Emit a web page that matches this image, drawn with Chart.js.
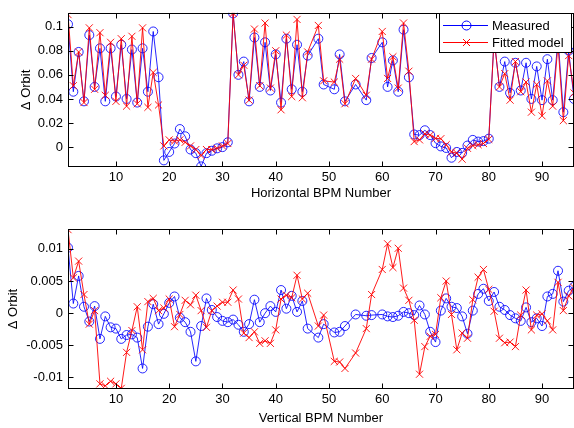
<!DOCTYPE html>
<html>
<head>
<meta charset="utf-8">
<script src="https://cdn.jsdelivr.net/npm/chart.js@4.4.1/dist/chart.umd.min.js"></script>
<style>
  html, body { margin: 0; padding: 0; background: #fff; }
  #wrap { position: relative; width: 574px; height: 428px; }
  canvas { position: absolute; left: 0; }
</style>
</head>
<body>
<div id="wrap">
  <canvas id="horiz" width="574" height="214" style="top:0;width:574px;height:214px"></canvas>
  <canvas id="vert" width="574" height="214" style="top:214px;width:574px;height:214px"></canvas>
</div>
<script>
// BPM numbers that have data (47, 50, 54, 56 and 59 are missing)
var bpm = [1, 2, 3, 4, 5, 6, 7, 8, 9, 10, 11, 12, 13, 14, 15, 16, 17, 18, 19, 20,
  21, 22, 23, 24, 25, 26, 27, 28, 29, 30, 31, 32, 33, 34, 35, 36, 37, 38, 39, 40,
  41, 42, 43, 44, 45, 46, 48, 49, 51, 52, 53, 55, 57, 58,
  60, 61, 62, 63, 64, 65, 66, 67, 68, 69, 70, 71, 72, 73, 74, 75, 76, 77, 78, 79,
  80, 81, 82, 83, 84, 85, 86, 87, 88, 89, 90, 91, 92, 93, 94, 95, 96];

var hMeasured = [0.102, 0.046, 0.079, 0.038, 0.093, 0.050, 0.082, 0.038, 0.082, 0.042,
  0.085, 0.040, 0.081, 0.037, 0.082, 0.046, 0.096, 0.058, -0.011, -0.004,
  0.003, 0.015, 0.009, -0.002, -0.005, -0.016, -0.005, -0.003, -0.001, 0.000,
  0.004, 0.111, 0.060, 0.071, 0.038, 0.091, 0.050, 0.087, 0.047, 0.077,
  0.037, 0.090, 0.048, 0.085, 0.046, 0.076, 0.090, 0.052, 0.048, 0.077, 0.038,
  0.052, 0.039, 0.074,
  0.087, 0.050, 0.072, 0.046, 0.0975, 0.058, 0.0105, 0.010, 0.014, 0.010,
  0.0033, 0.0006, -0.0007, -0.0088, -0.004, -0.0048, 0.0013, 0.006, 0.0046, 0.005,
  0.007, 0.090, 0.050, 0.071, 0.045, 0.070, 0.047, 0.070, 0.040, 0.067,
  0.039, 0.073, 0.039, 0.090, 0.029, 0.080, 0.040];

var hFitted = [0.110, 0.051, 0.079, 0.037, 0.099, 0.048, 0.095, 0.043, 0.087, 0.038,
  0.090, 0.034, 0.092, 0.036, 0.099, 0.033, 0.062, 0.035, 0.001, 0.006,
  0.005, 0.006, 0.004, 0.001, -0.002, -0.007, -0.002, -0.002, -0.001, 0.001,
  0.003, 0.111, 0.060, 0.068, 0.039, 0.098, 0.051, 0.103, 0.049, 0.080,
  0.031, 0.093, 0.042, 0.106, 0.041, 0.079, 0.101, 0.055, 0.054, 0.073, 0.036,
  0.057, 0.043, 0.073,
  0.096, 0.057, 0.075, 0.049, 0.103, 0.063, 0.0046, 0.006, 0.011, 0.010,
  0.0073, 0.007, 0.002, -0.004, -0.005, -0.010, -0.001, 0.0013, 0.002, 0.003,
  0.0065, 0.090, 0.050, 0.061, 0.039, 0.071, 0.046, 0.054, 0.029, 0.052,
  0.026, 0.055, 0.034, 0.085, 0.022, 0.076, 0.045];

var vMeasured = [0.0102, 0.0015, 0.0058, 0.0010, -0.0013, 0.0011, -0.0040, -0.0005, -0.0022, -0.0024,
  -0.0040, -0.0034, -0.0033, -0.0038, -0.0086, -0.0021, 0.0014, -0.0017, -0.0001, 0.0016,
  0.0026, -0.0007, -0.0014, -0.0029, -0.0075, -0.0020, 0.0023, 0.0005, -0.0006, -0.0012,
  -0.0014, -0.0010, -0.0018, -0.0029, -0.0017, 0.0021, -0.0014, 0.0000, 0.0011, 0.0002,
  0.0036, 0.0007, 0.0027, 0.0002, 0.0019, -0.0024, -0.0038, -0.0017, -0.0030, -0.0029, -0.0020,
  -0.0002, -0.0004, -0.0003,
  -0.0002, -0.0005, -0.0006, -0.0004, 0.0002, 0.0000, -0.0003, 0.0012, -0.0002, -0.0029,
  -0.0045, 0.0004, 0.0023, 0.0010, 0.0008, -0.0005, -0.0032, 0.0004, 0.0030, 0.0038,
  0.0019, 0.0033, 0.0010, 0.0005, -0.0003, -0.0008, -0.0012, 0.0009, -0.0014, -0.0008,
  -0.0020, 0.0026, 0.0030, 0.0066, 0.0018, 0.0035, 0.0041];

var vFitted = [0.0130, 0.0055, 0.0081, 0.0029, -0.0017, 0.0004, -0.0110, -0.0113, -0.0106, -0.0110,
  -0.0117, -0.0061, -0.0027, 0.0010, -0.0057, 0.0018, 0.0023, 0.0004, 0.0008, 0.0022,
  -0.0021, -0.0002, 0.0020, 0.0013, 0.0028, 0.0004, -0.0022, 0.0004, 0.0011, 0.0017,
  0.0017, 0.0036, 0.0022, -0.0031, -0.0038, -0.0029, -0.0047, -0.0043, -0.0047, -0.0026,
  0.0022, 0.0028, 0.0024, 0.0059, 0.0022, 0.0031, -0.0020, -0.0003, -0.0075, -0.0076, -0.0086,
  -0.0062, -0.0024, 0.0029,
  0.0068, 0.0108, 0.0071, 0.0101, 0.0039, 0.0020, -0.0011, -0.0095, -0.0052, -0.0036,
  -0.0033, 0.0024, 0.0050, -0.0002, -0.0057, -0.0031, -0.0039, 0.0021, 0.0056, 0.0068,
  0.0037, 0.0003, -0.0039, -0.0046, -0.0045, -0.0052, -0.0003, 0.0036, -0.0026, -0.0003,
  -0.0001, -0.0012, -0.0026, 0.0048, 0.0004, 0.0027, 0.0040];

var xTicks = [10, 20, 30, 40, 50, 60, 70, 80, 90];
var hTicks = [0, 0.02, 0.04, 0.06, 0.08, 0.1];
var hTickLabels = ['0', '0.02', '0.04', '0.06', '0.08', '0.1'];
var vTicks = [-0.01, -0.005, 0, 0.005, 0.01];
var vTickLabels = ['-0.01', '-0.005', '0', '0.005', '0.01'];

var FONT = 'Liberation Sans, Arial, Helvetica, sans-serif';
Chart.defaults.color = '#000';
Chart.defaults.font.family = FONT;
Chart.defaults.font.size = 13;

function points(values) {
  return bpm.map(function (x, i) { return { x: x, y: values[i] }; });
}

// axes box with inward ticks, MATLAB style; legend on the first plot
var boxPlugin = {
  id: 'box',
  afterDatasetsDraw: function (chart, args, opts) {
    var a = chart.chartArea, ctx = chart.ctx;
    var L = Math.round(a.left) + 0.5, R = Math.round(a.right) - 0.5;
    var T = Math.round(a.top) + 0.5, B = Math.round(a.bottom) - 0.5;
    ctx.save();
    ctx.strokeStyle = '#000';
    ctx.lineWidth = 1;
    ctx.strokeRect(L, T, R - L, B - T);
    ctx.beginPath();
    chart.scales.x.ticks.forEach(function (t) {
      var px = Math.round(chart.scales.x.getPixelForValue(t.value)) + 0.5;
      ctx.moveTo(px, B); ctx.lineTo(px, B - 5);
      ctx.moveTo(px, T); ctx.lineTo(px, T + 5);
    });
    chart.scales.y.ticks.forEach(function (t) {
      var py = Math.round(chart.scales.y.getPixelForValue(t.value)) + 0.5;
      ctx.moveTo(L, py); ctx.lineTo(L + 5, py);
      ctx.moveTo(R, py); ctx.lineTo(R - 5, py);
    });
    ctx.stroke();

    if (opts.legend) {
      ctx.fillStyle = '#fff';
      ctx.fillRect(439.5, 13.5, 132, 39);
      ctx.strokeRect(439.5, 13.5, 132, 39);
      // Measured
      ctx.strokeStyle = '#0000ff';
      ctx.beginPath();
      ctx.moveTo(443, 25.5); ctx.lineTo(488, 25.5);
      ctx.stroke();
      ctx.beginPath();
      ctx.arc(466.5, 25.5, 4.5, 0, Math.PI * 2);
      ctx.stroke();
      // Fitted model
      ctx.strokeStyle = '#ff0000';
      ctx.beginPath();
      ctx.moveTo(443, 42.5); ctx.lineTo(488, 42.5);
      ctx.moveTo(463, 39); ctx.lineTo(470, 46);
      ctx.moveTo(470, 39); ctx.lineTo(463, 46);
      ctx.stroke();
      ctx.fillStyle = '#000';
      ctx.font = '13px ' + FONT;
      ctx.textBaseline = 'middle';
      ctx.fillText('Measured', 492, 26);
      ctx.fillText('Fitted model', 492, 43);
    }
    ctx.restore();
  }
};

function makeChart(id, measured, fitted, cfg) {
  return new Chart(document.getElementById(id), {
    type: 'line',
    data: {
      datasets: [{
        label: 'Measured',
        data: points(measured),
        borderColor: 'rgba(0,0,255,0.85)',
        borderWidth: 1,
        pointStyle: 'circle',
        pointRadius: 4.5,
        pointBorderWidth: 1,
        pointBackgroundColor: 'rgba(0,0,0,0)',
        pointBorderColor: 'rgba(0,0,255,0.85)',
        order: 1
      }, {
        label: 'Fitted model',
        data: points(fitted),
        borderColor: 'rgba(255,0,0,0.9)',
        borderWidth: 1,
        pointStyle: 'crossRot',
        pointRadius: 5,
        pointBorderWidth: 1,
        pointBorderColor: 'rgba(255,0,0,0.9)',
        order: 0
      }]
    },
    options: {
      responsive: false,
      animation: false,
      devicePixelRatio: 1,
      events: [],
      layout: { autoPadding: false, padding: { top: cfg.padTop, right: 0, left: 0, bottom: 0 } },
      plugins: {
        legend: { display: false },
        tooltip: { enabled: false },
        box: { legend: cfg.legend }
      },
      scales: {
        x: {
          type: 'linear',
          min: 1,
          max: 96,
          grid: { display: false, drawTicks: false },
          border: { display: false },
          afterBuildTicks: function (s) {
            s.ticks = xTicks.map(function (v) { return { value: v }; });
          },
          afterFit: function (s) { s.height = cfg.xHeight; },
          ticks: { padding: 3, maxRotation: 0, autoSkip: false },
          title: {
            display: true,
            text: cfg.xTitle,
            font: { size: 13 },
            padding: { top: 0, bottom: cfg.xTitlePad }
          }
        },
        y: {
          min: cfg.yMin,
          max: cfg.yMax,
          grid: { display: false, drawTicks: false },
          border: { display: false },
          afterBuildTicks: function (s) {
            s.ticks = cfg.yTicks.map(function (v) { return { value: v }; });
          },
          afterFit: function (s) { s.width = 68; },
          ticks: {
            padding: 5,
            callback: function (v, i) { return cfg.yLabels[i]; }
          },
          title: {
            display: true,
            text: '\u0394 Orbit',
            font: { size: 13 },
            padding: { top: cfg.yTitlePad, bottom: 0 }
          }
        }
      }
    },
    plugins: [boxPlugin]
  });
}

makeChart('horiz', hMeasured, hFitted, {
  padTop: 7, xHeight: 47, xTitle: 'Horizontal BPM Number', xTitlePad: 13,
  yMin: -0.0165, yMax: 0.1115, yTicks: hTicks, yLabels: hTickLabels,
  yTitlePad: 19, legend: true
});

makeChart('vert', vMeasured, vFitted, {
  padTop: 15, xHeight: 39, xTitle: 'Vertical BPM Number', xTitlePad: 2,
  yMin: -0.0118, yMax: 0.0131, yTicks: vTicks, yLabels: vTickLabels,
  yTitlePad: 6, legend: false
});
</script>
</body>
</html>
